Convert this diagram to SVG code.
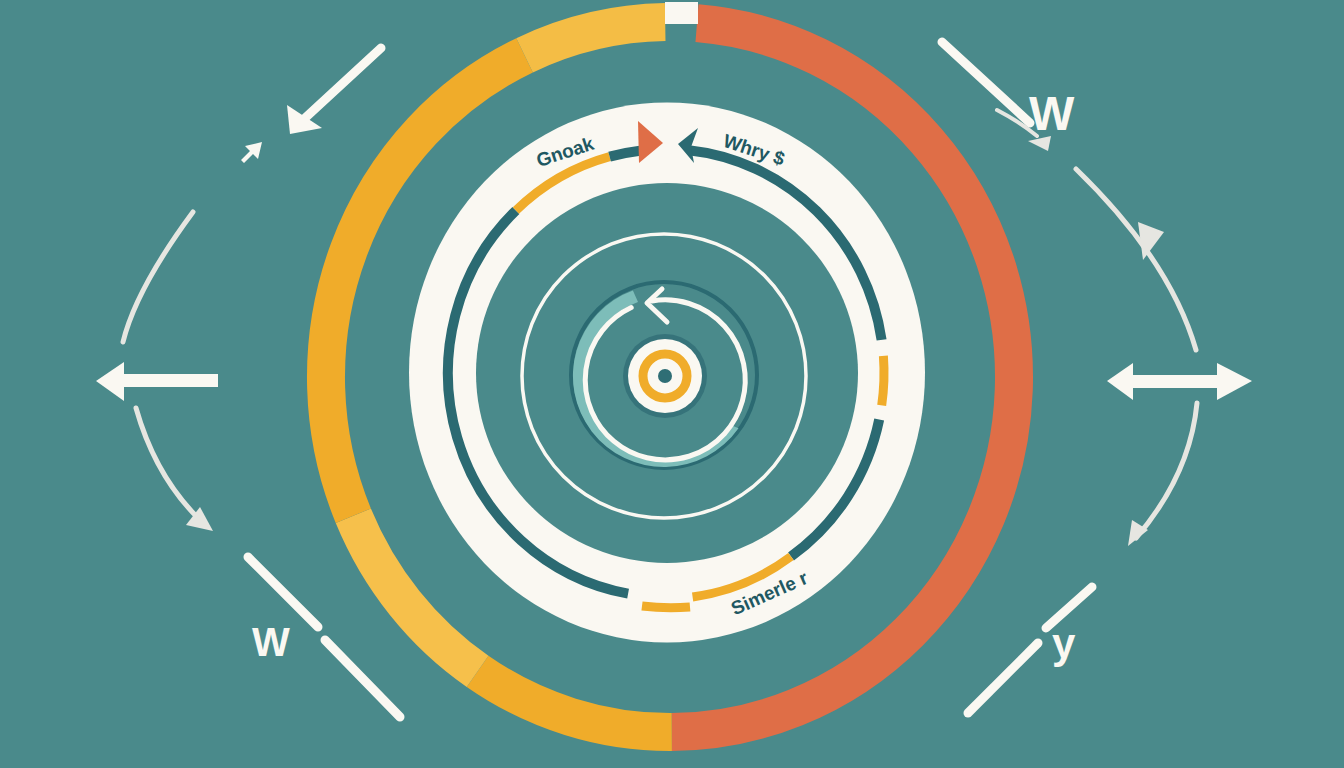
<svg xmlns="http://www.w3.org/2000/svg" width="1344" height="768" viewBox="0 0 1344 768">
<defs>
<style>
.ring{fill:none;stroke-width:38;stroke-linecap:butt}
.dk{fill:none;stroke:#2B6A72;stroke-width:10;stroke-linecap:butt}
.yl{fill:none;stroke:#F0AC2A;stroke-width:9;stroke-linecap:butt}
.wl{fill:none;stroke:#FAF8F2;stroke-width:9;stroke-linecap:round}
.gl{fill:none;stroke:#E6E6E1;stroke-width:5;stroke-linecap:round}
.wf{fill:#FAF8F2}
.gf{fill:#E6E6E1}
.lbl{font-family:"Liberation Sans",Arial,sans-serif;font-weight:bold;fill:#1F5862}
.big{font-family:"Liberation Sans",Arial,sans-serif;font-weight:bold;fill:#FAF8F2}
</style>
</defs>
<rect width="1344" height="768" fill="#4A8A8B"/>

<g id="outer-ring">
<path class="ring" stroke="#DF6E47" d="M697,23.1 A344,355 0 0 1 671.8,732"/>
<path class="ring" stroke="#F0AC2A" d="M671.8,732 A344,355 0 0 1 477.6,671.3"/>
<path class="ring" stroke="#F6C04B" d="M477.6,671.3 A344,355 0 0 1 353.3,515.7"/>
<path class="ring" stroke="#F0AC2A" d="M353.3,515.7 A344,355 0 0 1 524.6,55.3"/>
<path class="ring" stroke="#F4BD45" d="M524.6,55.3 A344,355 0 0 1 665.2,22"/>
<rect x="665" y="2" width="33" height="22" fill="#FAF8F2"/>
</g>

<g id="white-ring">
<ellipse cx="667" cy="372.5" rx="258" ry="270" fill="#FAF8F2"/>
<ellipse cx="667" cy="373" rx="191" ry="190" fill="#4A8A8B"/>
</g>

<g id="ring-arcs">
<path class="dk" d="M688.8,150.2 A218,224 0 0 1 881.6,339.9"/>
<polygon points="678,144 698,128 691,147 694,163" fill="#2B6A72"/>
<path class="yl" d="M883.4,355.8 A218,224 0 0 1 881.7,405.3"/>
<path class="dk" d="M879.2,419.6 A218,224 0 0 1 791,556.5"/>
<path class="yl" d="M791,556.5 A218,226 0 0 1 692.6,597"/>
<path class="yl" stroke-width="7" d="M642,606 Q666,609 690,607"/>
<path class="dk" d="M628.1,593.6 A218,224 0 0 1 515.9,210.5"/>
<path class="yl" d="M515.9,210.5 A218,224 0 0 1 609.6,156.6"/>
<path class="dk" d="M609.6,156.6 A218,224 0 0 1 640,150.7"/>
<polygon points="638,121 663,143 639,163" fill="#DF6E47"/>
</g>

<g id="labels">
<text class="lbl" font-size="19" text-anchor="middle" transform="translate(567,158) rotate(-18)">Gnoak</text>
<text class="lbl" font-size="19" text-anchor="middle" transform="translate(752,156) rotate(18)">Whry $</text>
<text class="lbl" font-size="19" text-anchor="middle" transform="translate(772,599) rotate(-24)">Simerle r</text>
</g>

<g id="core">
<circle cx="664" cy="376" r="142" fill="none" stroke="#FAF8F2" stroke-width="3.5"/>
<circle cx="664" cy="375" r="93" fill="none" stroke="#2B6A72" stroke-width="4"/>
<path d="M632.9,290.5 A91,91 0 1 0 738.5,428.2 L733.2,426 A82,82 0 1 1 638,301.9 Z" fill="#7DBDB9"/>
<path d="M652,301 A80,80 0 1 1 631.2,307.5" fill="none" stroke="#FAF8F2" stroke-width="5" stroke-linecap="round"/>
<polyline points="662,289 647,303 667,322" fill="none" stroke="#FAF8F2" stroke-width="5" stroke-linecap="round" stroke-linejoin="round"/>
<circle cx="665" cy="376" r="42" fill="#36737A"/>
<circle cx="665" cy="376" r="37" fill="#FAF8F2"/>
<circle cx="665" cy="376" r="22" fill="none" stroke="#F0AC2A" stroke-width="9"/>
<circle cx="665" cy="376" r="7" fill="#2F6E75"/>
</g>

<g id="connectors">
<line class="wl" x1="381" y1="48" x2="304" y2="119"/>
<polygon class="wf" points="287,105 290,134 322,128"/>
<polygon class="wf" points="241,160 250,151 245,146 262,142 258,159 253,154 244,163"/>
<path class="gl" d="M193,212 Q136,289 123,342"/>
<rect class="wf" x="122" y="374" width="96" height="13"/>
<polygon class="wf" points="96,381 124,362 124,401"/>
<path class="gl" d="M136,408 Q155,475 198,518"/>
<polygon class="gf" points="213,531 186,525 200,507"/>
<line class="wl" x1="248" y1="557" x2="318" y2="627"/>
<line class="wl" x1="325" y1="640" x2="400" y2="717"/>
<text class="big" font-size="40" x="252" y="656">W</text>
<line class="wl" x1="942" y1="42" x2="1030" y2="123"/>
<text class="big" font-size="48" x="1029" y="130">W</text>
<path d="M997,110 Q1020,122 1037,136" fill="none" stroke="#E6E6E1" stroke-width="4" stroke-linecap="round"/>
<polygon class="gf" points="1028,141 1051,136 1048,151"/>
<path class="gl" d="M1076,169 Q1170,260 1196,350"/>
<polygon class="gf" points="1138,222 1164,232 1143,260"/>
<rect class="wf" x="1132" y="375" width="86" height="13"/>
<polygon class="wf" points="1107,381 1133,363 1133,400"/>
<polygon class="wf" points="1252,381 1217,363 1217,400"/>
<path class="gl" d="M1197,403 Q1190,475 1136,538"/>
<polygon class="gf" points="1128,546 1132,520 1148,530"/>
<line class="wl" x1="1092" y1="587" x2="1046" y2="628"/>
<line class="wl" x1="1038" y1="643" x2="968" y2="713"/>
<text class="big" font-size="42" x="1052" y="658">y</text>
</g>
</svg>
